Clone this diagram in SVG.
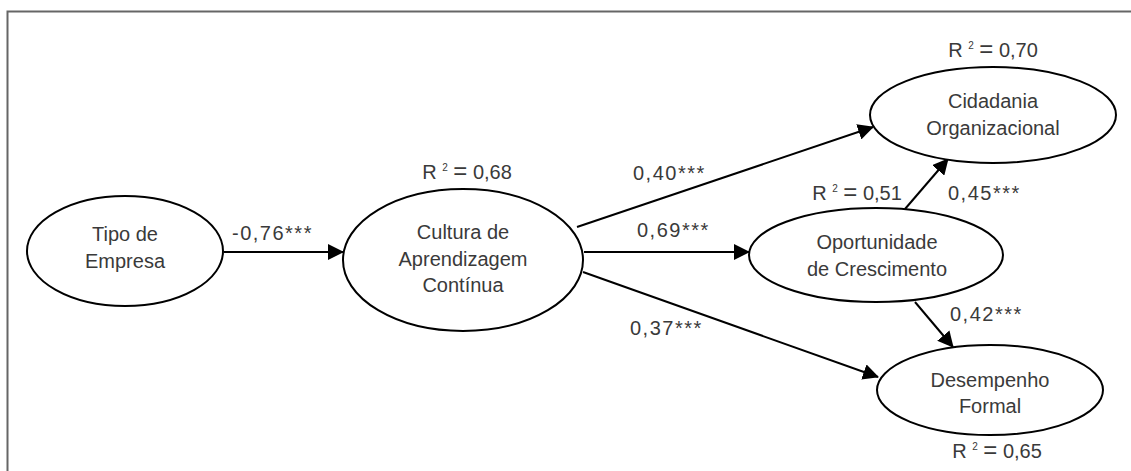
<svg xmlns="http://www.w3.org/2000/svg" width="1131" height="471" viewBox="0 0 1131 471">
<defs>
<marker id="ah" markerWidth="16" markerHeight="16" viewBox="0 0 16 16" refX="15" refY="8" orient="auto" markerUnits="userSpaceOnUse">
<path d="M0,0 L16,8 L0,16 Z" fill="#000"/>
</marker>
<style>
.node ellipse{fill:#fff;stroke:#000;stroke-width:2}
text{font-family:"Liberation Sans",Arial,sans-serif;font-size:20px;fill:#3a3a3a}
.c{text-anchor:middle}
.sup{font-size:10px}
.eq{font-size:24px}
#connectors line{stroke:#000;stroke-width:2;marker-end:url(#ah)}
#connectors text{letter-spacing:1.5px}
</style>
</defs>
<rect width="1131" height="471" fill="#fff"/>
<path d="M7.5,471 V11.5 H1131" fill="none" stroke="#666" stroke-width="2"/>
<g id="connectors">
<line x1="224" y1="252" x2="343" y2="252"/>
<line x1="584" y1="252" x2="749" y2="252"/>
<line x1="577" y1="227" x2="873" y2="127"/>
<line x1="583" y1="272" x2="878" y2="377"/>
<line x1="905" y1="209" x2="948" y2="159"/>
<line x1="915" y1="302" x2="953" y2="347"/>
<text x="232" y="240">-0,76***</text>
<text x="633" y="180">0,40***</text>
<text x="637" y="237">0,69***</text>
<text x="630" y="335">0,37***</text>
<text x="948" y="200">0,45***</text>
<text x="950" y="321">0,42***</text>
</g>
<g id="tipo" class="node">
<ellipse cx="125" cy="251" rx="98" ry="55"/>
<text class="c" x="125" y="241">Tipo de</text>
<text class="c" x="125" y="268">Empresa</text>
</g>
<g id="cultura" class="node">
<ellipse cx="463" cy="260" rx="120" ry="71"/>
<text class="c" x="463" y="239">Cultura de</text>
<text class="c" x="463" y="266">Aprendizagem</text>
<text class="c" x="463" y="292">Contínua</text>
<text class="c" x="467" y="179">R <tspan class="sup" dy="-8">2</tspan><tspan dy="8"> <tspan class="eq">=</tspan> 0,68</tspan></text>
</g>
<g id="cidadania" class="node">
<ellipse cx="993" cy="115" rx="123" ry="48"/>
<text class="c" x="993" y="108">Cidadania</text>
<text class="c" x="993" y="135">Organizacional</text>
<text class="c" x="993" y="57">R <tspan class="sup" dy="-8">2</tspan><tspan dy="8"> <tspan class="eq">=</tspan> 0,70</tspan></text>
</g>
<g id="oportunidade" class="node">
<ellipse cx="876" cy="255" rx="127" ry="47"/>
<text class="c" x="877" y="249">Oportunidade</text>
<text class="c" x="877" y="276">de Crescimento</text>
<text class="c" x="857" y="200">R <tspan class="sup" dy="-8">2</tspan><tspan dy="8"> <tspan class="eq">=</tspan> 0,51</tspan></text>
</g>
<g id="desempenho" class="node">
<ellipse cx="990" cy="390" rx="113" ry="45"/>
<text class="c" x="990" y="387">Desempenho</text>
<text class="c" x="990" y="413">Formal</text>
<text class="c" x="997" y="458">R <tspan class="sup" dy="-8">2</tspan><tspan dy="8"> <tspan class="eq">=</tspan> 0,65</tspan></text>
</g>
</svg>
